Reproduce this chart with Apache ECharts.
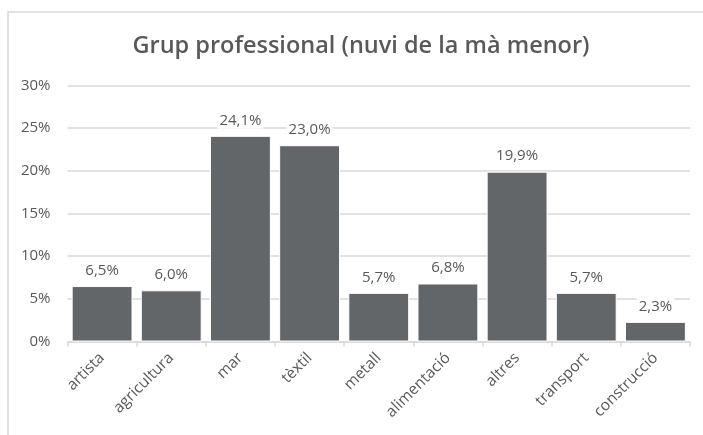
<!DOCTYPE html>
<html>
<head>
<meta charset="utf-8">
<script src="https://cdn.jsdelivr.net/npm/echarts@6/dist/echarts.min.js"></script>
<style>
  html, body { margin: 0; padding: 0; background: #fff; }
  #chart { width: 703px; height: 435px; }
</style>
</head>
<body>
<div id="chart"></div>
<script>
// dades del gràfic
const categories = ['artista', 'agricultura', 'mar', 'tèxtil', 'metall', 'alimentació', 'altres', 'transport', 'construcció'];
const values = [6.5, 6.0, 24.1, 23.0, 5.7, 6.8, 19.9, 5.7, 2.3];
const yTicks = [0, 5, 10, 15, 20, 25, 30];

const textColor = '#595959';
const lineColor = '#d9d9d9';
const fontFamily = '"Open Sans", sans-serif';

const chart = echarts.init(document.getElementById('chart'));

chart.setOption({
  animation: false,
  textStyle: { fontFamily: fontFamily },
  title: {
    text: 'Grup professional (nuvi de la mà menor)',
    left: 356,
    top: 29,
    textAlign: 'center',
    textStyle: { fontSize: 23.5, fontWeight: 600, color: textColor, fontFamily: fontFamily }
  },
  graphic: [
    {
      type: 'rect',
      shape: { x: 8, y: 12, width: 720, height: 440 },
      style: { fill: 'none', stroke: lineColor, lineWidth: 1.5 },
      silent: true
    }
  ],
  grid: { left: 67.5, right: 13, top: 85.5, bottom: 93.5 },
  xAxis: {
    type: 'category',
    data: categories,
    axisLine: { lineStyle: { color: lineColor, width: 1.5 } },
    axisTick: { show: true, length: 5, lineStyle: { color: lineColor, width: 1.5 } },
    axisLabel: { rotate: 45, fontSize: 15.5, color: textColor, margin: 14, interval: 0 }
  },
  yAxis: {
    type: 'value',
    min: yTicks[0],
    max: yTicks[yTicks.length - 1],
    interval: 5,
    axisLine: { show: false },
    axisTick: { show: false },
    axisLabel: { fontSize: 15, color: textColor, margin: 17, formatter: v => v + '%' },
    splitLine: { lineStyle: { color: lineColor, width: 1.5 } }
  },
  series: [
    {
      type: 'bar',
      data: values,
      barCategoryGap: '12%',
      itemStyle: { color: '#636669', borderColor: '#fff', borderWidth: 1 },
      label: {
        show: true,
        position: 'top',
        distance: 7,
        fontSize: 15,
        color: textColor,
        backgroundColor: '#fff',
        padding: [1, 2],
        formatter: p => p.value.toFixed(1).replace('.', ',') + '%'
      }
    }
  ]
});

window.addEventListener('resize', function() {
  chart.resize();
});
</script>
</body>
</html>
